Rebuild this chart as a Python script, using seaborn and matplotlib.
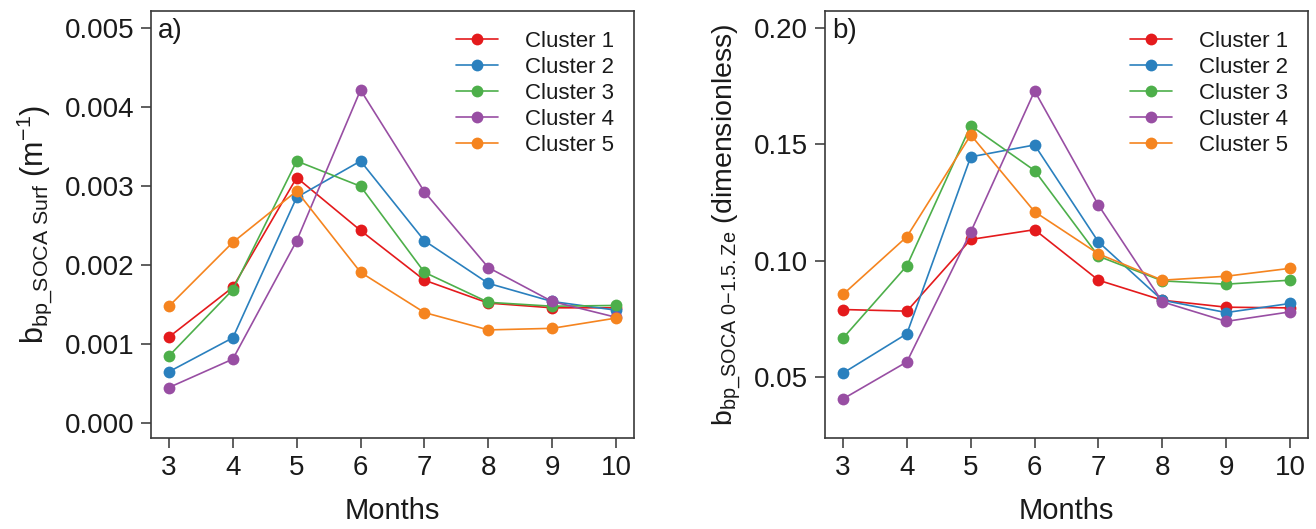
import matplotlib
matplotlib.use("Agg")
import pandas as pd
import matplotlib.pyplot as plt
import seaborn as sns

# ---- data ----
months = [3, 4, 5, 6, 7, 8, 9, 10]
clusters = ["Cluster 1", "Cluster 2", "Cluster 3", "Cluster 4", "Cluster 5"]

# a) surface bbp (m^-1)
surf_c1 = [0.00109, 0.00172, 0.00311, 0.00244, 0.00181, 0.00152, 0.00146, 0.00146]
surf_c2 = [0.00065, 0.00108, 0.00286, 0.00332, 0.00231, 0.00177, 0.00154, 0.00143]
surf_c3 = [0.00085, 0.00169, 0.00332, 0.00300, 0.00191, 0.00153, 0.00148, 0.00149]
surf_c4 = [0.00045, 0.00081, 0.00231, 0.00422, 0.00293, 0.00197, 0.00154, 0.00134]
surf_c5 = [0.00148, 0.00229, 0.00294, 0.00191, 0.00140, 0.00118, 0.00120, 0.00133]

# b) 0-1.5 Ze bbp (dimensionless)
ze_c1 = [0.0790, 0.0783, 0.1091, 0.1133, 0.0916, 0.0830, 0.0800, 0.0797]
ze_c2 = [0.0517, 0.0686, 0.1446, 0.1497, 0.1080, 0.0830, 0.0777, 0.0816]
ze_c3 = [0.0667, 0.0978, 0.1580, 0.1387, 0.1019, 0.0913, 0.0899, 0.0916]
ze_c4 = [0.0406, 0.0565, 0.1123, 0.1729, 0.1238, 0.0823, 0.0739, 0.0780]
ze_c5 = [0.0855, 0.1103, 0.1540, 0.1210, 0.1029, 0.0916, 0.0933, 0.0967]

COLORS = ["#E41A1C", "#2A80BE", "#4DAF4A", "#984EA3", "#F5841F"]
INK = "#1a1a1a"


def long_df(series):
    rows = []
    for name, vals in zip(clusters, series):
        for m, v in zip(months, vals):
            rows.append({"month": m, "value": v, "cluster": name})
    return pd.DataFrame(rows)


surf_df = long_df([surf_c1, surf_c2, surf_c3, surf_c4, surf_c5])
ze_df = long_df([ze_c1, ze_c2, ze_c3, ze_c4, ze_c5])

sns.set_theme(style="ticks")
plt.rcParams["font.family"] = ["Liberation Sans", "DejaVu Sans"]
plt.rcParams["mathtext.fontset"] = "custom"
plt.rcParams["mathtext.rm"] = "Liberation Sans"
plt.rcParams["mathtext.it"] = "Liberation Sans"
plt.rcParams["text.color"] = INK
plt.rcParams["axes.labelcolor"] = INK

fig = plt.figure(figsize=(13.16, 5.29), dpi=100)
ax1 = fig.add_axes([0.1147, 0.172, 0.367, 0.807])
ax2 = fig.add_axes([0.6269, 0.172, 0.367, 0.807])

panels = [
    (ax1, surf_df, (-0.00019, 0.00522), [0.000, 0.001, 0.002, 0.003, 0.004, 0.005], "%.3f", "a)",
     r"$\mathregular{b_{bp\_SOCA\ Surf}\ (m^{-1})}$", 22),
    (ax2, ze_df, (0.0238, 0.2072), [0.05, 0.10, 0.15, 0.20], "%.2f", "b)",
     r"$\mathregular{b_{bp\_SOCA\ 0{-}1.5.Ze}}$ (dimensionless)", 20.5),
]

for ax, df, ylim, yticks, fmt, tag, ylabel, ysize in panels:
    sns.lineplot(data=df, x="month", y="value", hue="cluster", palette=COLORS,
                 marker="o", markersize=8.5, markeredgewidth=0, linewidth=1.2, ax=ax)
    ax.set_xlim(2.718, 10.28)
    ax.set_ylim(*ylim)
    ax.set_xticks(months)
    ax.set_yticks(yticks)
    ax.set_yticklabels([fmt % t for t in yticks])
    ax.tick_params(axis="both", labelsize=20, length=7, width=1.1, color="#333333",
                   labelcolor=INK, direction="out", pad=5)
    for sp in ax.spines.values():
        sp.set_color("#3a3a3a")
        sp.set_linewidth(1.2)
    ax.set_xlabel("Months", fontsize=21, labelpad=12)
    ax.set_ylabel(ylabel, fontsize=ysize, labelpad=8)
    ax.text(0.015, 0.985, tag, transform=ax.transAxes, fontsize=20, va="top", ha="left")
    ax.legend(loc="upper right", frameon=False, fontsize=16, handlelength=1.9,
              handletextpad=1.2, labelspacing=0.22, borderaxespad=0.5,
              labelcolor=INK)

fig.savefig("out.png", dpi=100)
